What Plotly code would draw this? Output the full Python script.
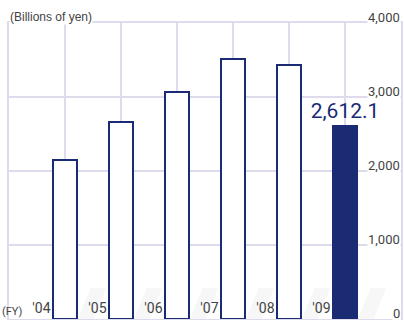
import plotly.graph_objects as go

# Fiscal-year sales (billions of yen)
years = ["'04", "'05", "'06", "'07", "'08", "'09"]
values = [2150, 2665, 3063, 3514, 3428, 2612.1]
y_ticks = [0, 1000, 2000, 3000, 4000]

NAVY = "#1b2b73"
GRID = "#dedcec"
TEXT = "#444444"

pos = list(range(1, len(years) + 1))
bar_w = 0.43

fills = ["white"] * (len(years) - 1) + [NAVY]
labels = [""] * (len(years) - 1) + [f"{values[-1]:,.1f}"]

fig = go.Figure()
fig.add_trace(go.Bar(
    x=pos, y=values, width=bar_w,
    marker=dict(color=fills, line=dict(color=NAVY, width=2)),
    text=labels, textposition="outside", constraintext="none",
    textfont=dict(family="Roboto", size=21, color=NAVY),
    cliponaxis=False, hoverinfo="skip",
))

# soft floor shadows to the right of each bar
shapes = []
for p in pos:
    x0 = p + bar_w / 2 + 0.02
    shapes.append(dict(
        type="path", xref="x", yref="y", layer="below",
        path=f"M {x0},0 L {x0 + 0.28},0 L {x0 + 0.5},420 L {x0 + 0.22},420 Z",
        fillcolor="rgba(120,120,120,0.06)", line=dict(width=0),
    ))

annotations = [
    dict(text="(Billions of yen)", xref="paper", yref="paper",
         x=0, y=1, xanchor="left", yanchor="bottom", showarrow=False,
         font=dict(family="Liberation Sans", size=12, color=TEXT),
         borderpad=0, yshift=-2, bgcolor="white"),
    dict(text="(FY)", xref="paper", yref="paper",
         x=-0.02, y=0, xanchor="left", yanchor="bottom", showarrow=False,
         font=dict(family="Roboto", size=11, color=TEXT), borderpad=0),
]
# value scale labels sit on top of their gridlines at the right edge
for v in y_ticks:
    annotations.append(dict(
        text=f"{v:,}", xref="paper", yref="y", x=1, y=v,
        xanchor="right", yanchor="bottom", showarrow=False,
        font=dict(family="Roboto", size=13, color=TEXT),
        borderpad=0, yshift=-3, bgcolor="white",
    ))

fig.update_layout(
    width=404, height=320,
    margin=dict(l=9, r=3, t=23, b=1),
    paper_bgcolor="white", plot_bgcolor="white",
    showlegend=False, bargap=0,
    shapes=shapes,
    xaxis=dict(
        range=[0, 7],
        tickmode="array",
        tickvals=[p - bar_w / 2 - 0.03 for p in pos],
        ticktext=years,
        ticklabelposition="inside left",
        ticks="", showgrid=False, zeroline=False,
        showline=True, mirror=True, linecolor=GRID, linewidth=1.5,
        tickfont=dict(family="Roboto", size=14, color=TEXT),
        minor=dict(tickmode="array", tickvals=list(range(0, 8)),
                   showgrid=True, gridcolor=GRID, gridwidth=1.5, ticks=""),
        fixedrange=True,
    ),
    yaxis=dict(
        range=[0, 4000], side="right",
        tickmode="array", tickvals=y_ticks,
        showticklabels=False,
        ticks="", showgrid=True, gridcolor=GRID, gridwidth=1.5,
        zeroline=False, showline=True, mirror=True, linecolor=GRID,
        linewidth=1.5,
        fixedrange=True,
    ),
    annotations=annotations,
)

fig.write_html("out.html")
